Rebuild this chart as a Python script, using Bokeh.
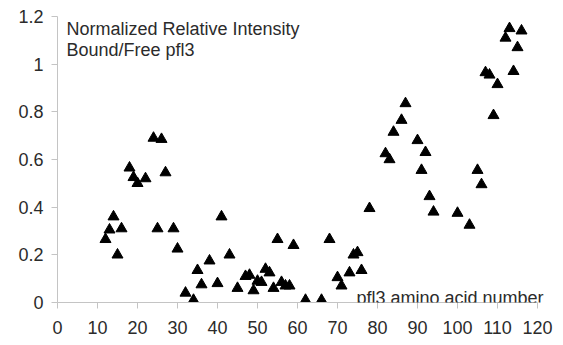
from bokeh.plotting import figure
from bokeh.models import Range1d, FixedTicker, Label, ColumnDataSource
from bokeh.embed import file_html
from bokeh.resources import INLINE

# pfl3 amino acid number
residue = [12, 13, 14, 15, 16, 18, 19, 20, 22, 24, 25, 26, 27, 29, 30,
           32, 34, 35, 36, 38, 40, 41, 43, 45, 47, 48, 49, 50, 51, 52,
           53, 54, 55, 56, 57, 58, 59, 62, 66, 68, 70, 71, 73, 74, 75,
           76, 78, 82, 83, 84, 86, 87, 90, 91, 92, 93, 94, 100, 103, 105,
           106, 107, 108, 109, 110, 112, 113, 114, 115, 116]
# Normalized relative intensity bound/free
intensity = [0.265, 0.305, 0.36, 0.20, 0.31, 0.565, 0.525, 0.50, 0.52, 0.69, 0.31, 0.685, 0.545, 0.31, 0.225,
             0.04, 0.01, 0.135, 0.075, 0.175, 0.08, 0.36, 0.20, 0.06, 0.11, 0.115, 0.05, 0.09, 0.085, 0.14,
             0.125, 0.06, 0.265, 0.085, 0.07, 0.07, 0.24, 0.01, 0.01, 0.265, 0.105, 0.07, 0.125, 0.20, 0.21,
             0.135, 0.395, 0.625, 0.60, 0.715, 0.765, 0.835, 0.68, 0.555, 0.63, 0.445, 0.38, 0.375, 0.325, 0.555,
             0.495, 0.965, 0.955, 0.785, 0.915, 1.11, 1.15, 0.97, 1.07, 1.14]

x_ticks = [0, 10, 20, 30, 40, 50, 60, 70, 80, 90, 100, 110, 120]
y_ticks = [0, 0.2, 0.4, 0.6, 0.8, 1.0, 1.2]
y_tick_labels = ["0", "0.2", "0.4", "0.6", "0.8", "1", "1.2"]
title_lines = ["Normalized Relative Intensity", "Bound/Free pfl3"]
x_label = "pfl3 amino acid number"

FONT = "Liberation Sans"
TXT = "#2b2b2b"
AX = "#c4c4c4"
FS = "18px"

# frame extends 3 units past the last tick so the in-plot axis label is not clipped;
# the axis line itself stops at 120 via bounds
p = figure(width=563, height=345, output_backend="svg", toolbar_location=None,
           x_range=Range1d(0, 123), y_range=Range1d(0, 1.2),
           min_border_left=57, min_border_right=14, min_border_top=16, min_border_bottom=43)
p.outline_line_color = None
p.xgrid.visible = False
p.ygrid.visible = False
p.background_fill_color = "white"

src = ColumnDataSource(dict(x=residue, y=intensity))
p.scatter("x", "y", source=src, marker="triangle", size=11, fill_color="black", line_color="black")

for ax in (p.xaxis[0], p.yaxis[0]):
    ax.axis_line_color = AX
    ax.major_tick_line_color = AX
    ax.major_tick_out = 6
    ax.major_tick_in = 0
    ax.minor_tick_line_color = None
    ax.major_label_text_font = FONT
    ax.major_label_text_font_size = FS
    ax.major_label_text_color = TXT

p.xaxis[0].ticker = FixedTicker(ticks=x_ticks)
p.xaxis[0].bounds = (x_ticks[0], x_ticks[-1])
p.xaxis[0].major_label_standoff = 12
p.yaxis[0].ticker = FixedTicker(ticks=y_ticks)
p.yaxis[0].major_label_overrides = {t: s for t, s in zip(y_ticks, y_tick_labels)}
p.yaxis[0].major_label_standoff = 8

title_y = [1.19, 1.102]
for line, ty in zip(title_lines, title_y):
    p.add_layout(Label(x=2.25, y=ty, text=line, text_font=FONT, text_font_size=FS,
                       text_color=TXT, text_baseline="top", level="overlay"))

p.add_layout(Label(x=74.75, y=0.019, text=x_label, text_font=FONT, text_font_size=FS,
                   text_color=TXT, text_baseline="alphabetic", level="overlay"))

open("out.html", "w").write(file_html(p, INLINE))
